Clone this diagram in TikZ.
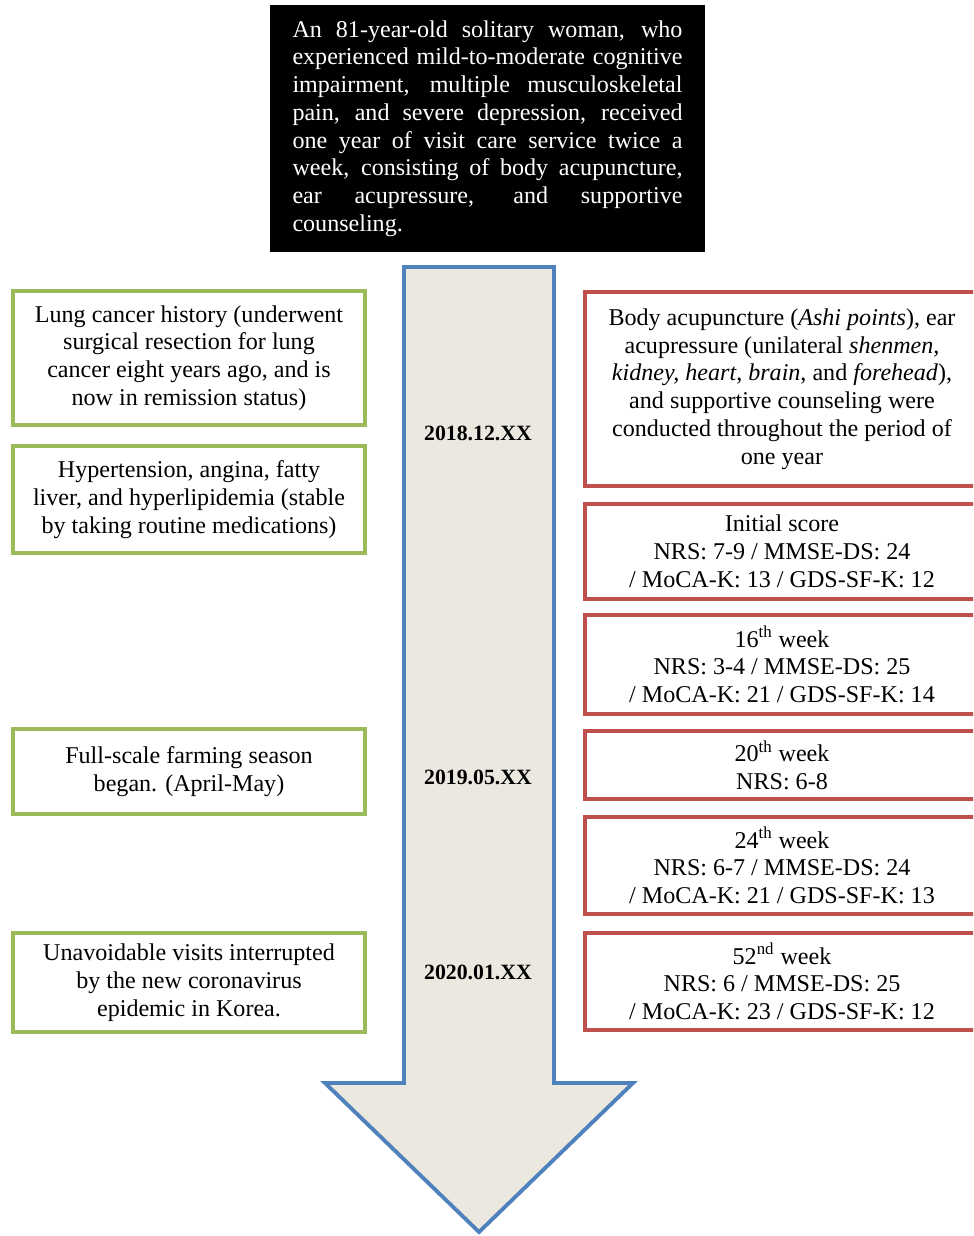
\documentclass[tikz,border=0pt]{standalone}
\usepackage{fontspec}
\setmainfont{Liberation Serif}
\usetikzlibrary{shapes,arrows}

\definecolor{boxgreen}{HTML}{9BBB59}
\definecolor{boxred}{HTML}{C0504D}
\definecolor{arrowblue}{HTML}{4F81BD}
\definecolor{arrowfill}{HTML}{EAE8DF}

\begin{document}
\begin{tikzpicture}[font = \fontsize{13.7}{15.8}\selectfont]

    % Define block styles
    \tikzstyle{block} = [rectangle, draw, line width = 2.2pt,
        align = center, inner sep = 0pt]
    \tikzstyle{history} = [block, draw = boxgreen, minimum width = 7.04cm]
    \tikzstyle{treat} = [block, draw = boxred, minimum width = 7.88cm]
    \tikzstyle{date} = [rectangle, font = \fontsize{12.4}{15}\selectfont\bfseries]

    \useasboundingbox (0,0) rectangle (19.46,-24.72);
    \clip (0,0) rectangle (19.46,-24.72);

    % Case summary
    \node [rectangle, fill = black, text = white, text width = 7.8cm,
        align = justify, minimum width = 8.7cm, minimum height = 4.94cm,
        inner sep = 0pt] (case) at (9.75,-2.57)
        {\hyphenpenalty=10000 \exhyphenpenalty=10000
        An 81-year-old solitary woman, who\linebreak experienced
        mild-to-moderate cognitive\linebreak impairment, multiple
        musculoskeletal\linebreak pain, and severe depression,
        received\linebreak one year of visit care service twice a\linebreak
        week, consisting of body acupuncture,\linebreak ear acupressure,
        and supportive\linebreak counseling.};

    % Time arrow
    \draw [arrowblue, line width = 2.2pt, fill = arrowfill, line join = miter]
        (8.08,-5.34) -- (11.08,-5.34) -- (11.08,-21.66) -- (12.66,-21.66)
        -- (9.58,-24.64) -- (6.5,-21.66) -- (8.08,-21.66) -- cycle;

    % Place nodes
    \node [date] (d2018) at (9.56,-8.66) {2018.12.XX};
    \node [date] (d2019) at (9.56,-15.54) {2019.05.XX};
    \node [date] (d2020) at (9.56,-19.44) {2020.01.XX};

    \node [history, minimum height = 2.68cm] (lung) at (3.78,-7.16)
        {Lung cancer history (underwent\\ surgical resection for lung\\
        cancer eight years ago, and is\\ now in remission status)};
    \node [history, minimum height = 2.14cm] (chronic) at (3.78,-9.99)
        {Hypertension, angina, fatty\\ liver, and hyperlipidemia (stable\\
        by taking routine medications)};
    \node [history, minimum height = 1.70cm] (farming) at (3.78,-15.43)
        {Full-scale farming season\\ began. (April-May)};
    \node [history, minimum height = 1.98cm] (covid) at (3.78,-19.65)
        {Unavoidable visits interrupted\\ by the new coronavirus\\
        epidemic in Korea.};

    \node [treat, minimum height = 3.88cm] (therapy) at (15.64,-7.78)
        {Body acupuncture (\textit{Ashi points}), ear\\
        acupressure (unilateral \textit{shenmen,}\\
        \textit{kidney, heart}, \textit{brain}, and \textit{forehead}),\\
        and supportive counseling were\\
        conducted throughout the period of\\ one year};
    \node [treat, minimum height = 1.90cm] (initial) at (15.64,-11.03)
        {Initial score\\ NRS: 7-9 / MMSE-DS: 24\\
        / MoCA-K: 13 / GDS-SF-K: 12};
    \node [treat, minimum height = 1.98cm] (week16) at (15.64,-13.29)
        {16\textsuperscript{th} week\\ NRS: 3-4 / MMSE-DS: 25\\
        / MoCA-K: 21 / GDS-SF-K: 14};
    \node [treat, minimum height = 1.36cm] (week20) at (15.64,-15.30)
        {20\textsuperscript{th} week\\ NRS: 6-8};
    \node [treat, minimum height = 1.94cm] (week24) at (15.64,-17.31)
        {24\textsuperscript{th} week\\ NRS: 6-7 / MMSE-DS: 24\\
        / MoCA-K: 21 / GDS-SF-K: 13};
    \node [treat, minimum height = 1.94cm] (week52) at (15.64,-19.63)
        {52\textsuperscript{nd} week\\ NRS: 6 / MMSE-DS: 25\\
        / MoCA-K: 23 / GDS-SF-K: 12};

\end{tikzpicture}
\end{document}
